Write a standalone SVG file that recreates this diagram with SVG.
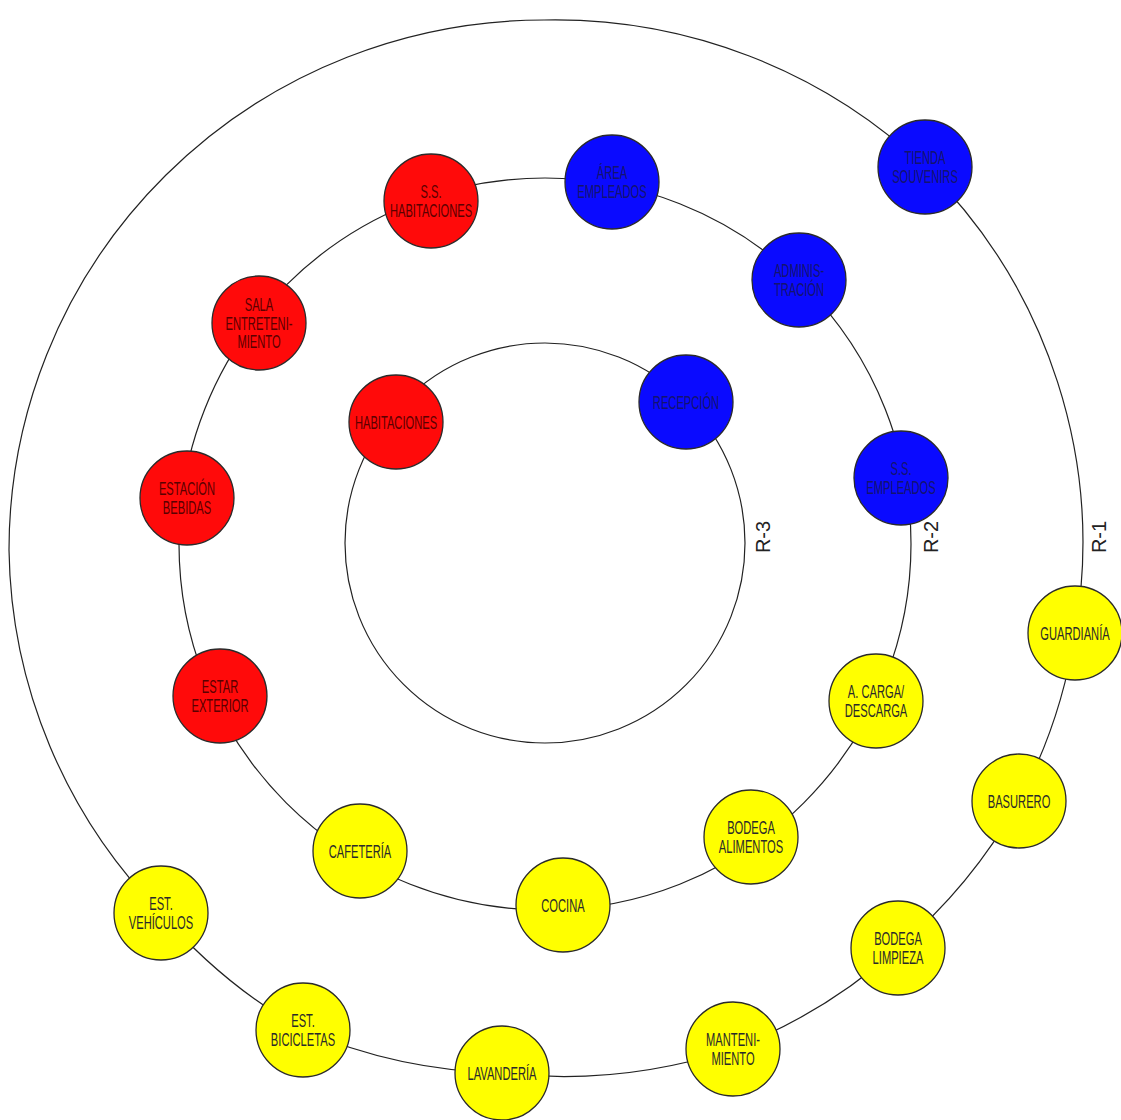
<svg xmlns="http://www.w3.org/2000/svg" width="1121" height="1120" viewBox="0 0 1121 1120">
<style>
.ring{fill:none;stroke:#222;stroke-width:1.2}
.n{stroke:#2a2a2a;stroke-width:1.3}
.r{fill:#ff0a0a}
.b{fill:#0a0aff}
.y{fill:#ffff00}
.t{font-family:"Liberation Sans",Arial,sans-serif;font-size:18px;text-anchor:middle}
.tr{fill:#5a0000}
.tb{fill:#14146e}
.ty{fill:#2a2a2a}
.lbl{font-family:"Liberation Sans",Arial,sans-serif;font-size:20px;fill:#222;text-anchor:middle}
</style>
<rect width="1121" height="1120" fill="#fff"/>
<g id="connectors">
<path id="ring-r1" class="ring" d="M161,913 A535 530 0 0 1 9,550 A535 530 0 0 1 544,20 A535 530 0 0 1 925,167 A535 530 0 0 1 1075,633 A535 530 0 0 1 1019,801 A535 530 0 0 1 898,948 A535 530 0 0 1 733,1049 A535 530 0 0 1 502,1073 A535 530 0 0 1 303,1030 A535 530 0 0 1 161,913 Z"/>
<circle id="ring-r2" class="ring" cx="545" cy="544" r="366"/>
<circle id="ring-r3" class="ring" cx="545" cy="543" r="200"/>
</g>
<g id="labels">
<text class="lbl" transform="translate(770,537) rotate(-90)">R-3</text>
<text class="lbl" transform="translate(938,537) rotate(-90)">R-2</text>
<text class="lbl" transform="translate(1106,537) rotate(-90)">R-1</text>
</g>
<g id="nodes">
<g id="tienda-souvenirs" transform="translate(925,167)"><circle class="n b" r="47"/><text class="t tb" transform="scale(0.62,1)"><tspan x="0" y="-3">TIENDA</tspan><tspan x="0" y="16">SOUVENIRS</tspan></text></g>
<g id="area-empleados" transform="translate(612,182)"><circle class="n b" r="47"/><text class="t tb" transform="scale(0.62,1)"><tspan x="0" y="-3">ÁREA</tspan><tspan x="0" y="16">EMPLEADOS</tspan></text></g>
<g id="ss-habitaciones" transform="translate(431,201)"><circle class="n r" r="47"/><text class="t tr" transform="scale(0.62,1)"><tspan x="0" y="-3">S.S.</tspan><tspan x="0" y="16">HABITACIONES</tspan></text></g>
<g id="administracion" transform="translate(799,280)"><circle class="n b" r="47"/><text class="t tb" transform="scale(0.62,1)"><tspan x="0" y="-3">ADMINIS-</tspan><tspan x="0" y="16">TRACIÓN</tspan></text></g>
<g id="sala-entretenimiento" transform="translate(259,323)"><circle class="n r" r="47"/><text class="t tr" transform="scale(0.62,1)"><tspan x="0" y="-12.5">SALA</tspan><tspan x="0" y="6.5">ENTRETENI-</tspan><tspan x="0" y="25.5">MIENTO</tspan></text></g>
<g id="habitaciones" transform="translate(396,422)"><circle class="n r" r="47"/><text class="t tr" transform="scale(0.62,1)"><tspan x="0" y="6.5">HABITACIONES</tspan></text></g>
<g id="recepcion" transform="translate(686,402)"><circle class="n b" r="47"/><text class="t tb" transform="scale(0.62,1)"><tspan x="0" y="6.5">RECEPCIÓN</tspan></text></g>
<g id="ss-empleados" transform="translate(901,478)"><circle class="n b" r="47"/><text class="t tb" transform="scale(0.62,1)"><tspan x="0" y="-3">S.S.</tspan><tspan x="0" y="16">EMPLEADOS</tspan></text></g>
<g id="estacion-bebidas" transform="translate(187,498)"><circle class="n r" r="47"/><text class="t tr" transform="scale(0.62,1)"><tspan x="0" y="-3">ESTACIÓN</tspan><tspan x="0" y="16">BEBIDAS</tspan></text></g>
<g id="guardiania" transform="translate(1075,633)"><circle class="n y" r="47"/><text class="t ty" transform="scale(0.62,1)"><tspan x="0" y="6.5">GUARDIANÍA</tspan></text></g>
<g id="carga-descarga" transform="translate(876,701)"><circle class="n y" r="47"/><text class="t ty" transform="scale(0.62,1)"><tspan x="0" y="-3">A. CARGA/</tspan><tspan x="0" y="16">DESCARGA</tspan></text></g>
<g id="estar-exterior" transform="translate(220,696)"><circle class="n r" r="47"/><text class="t tr" transform="scale(0.62,1)"><tspan x="0" y="-3">ESTAR</tspan><tspan x="0" y="16">EXTERIOR</tspan></text></g>
<g id="basurero" transform="translate(1019,801)"><circle class="n y" r="47"/><text class="t ty" transform="scale(0.62,1)"><tspan x="0" y="6.5">BASURERO</tspan></text></g>
<g id="bodega-alimentos" transform="translate(751,837)"><circle class="n y" r="47"/><text class="t ty" transform="scale(0.62,1)"><tspan x="0" y="-3">BODEGA</tspan><tspan x="0" y="16">ALIMENTOS</tspan></text></g>
<g id="cafeteria" transform="translate(360,851)"><circle class="n y" r="47"/><text class="t ty" transform="scale(0.62,1)"><tspan x="0" y="6.5">CAFETERÍA</tspan></text></g>
<g id="cocina" transform="translate(563,905)"><circle class="n y" r="47"/><text class="t ty" transform="scale(0.62,1)"><tspan x="0" y="6.5">COCINA</tspan></text></g>
<g id="est-vehiculos" transform="translate(161,913)"><circle class="n y" r="47"/><text class="t ty" transform="scale(0.62,1)"><tspan x="0" y="-3">EST.</tspan><tspan x="0" y="16">VEHÍCULOS</tspan></text></g>
<g id="bodega-limpieza" transform="translate(898,948)"><circle class="n y" r="47"/><text class="t ty" transform="scale(0.62,1)"><tspan x="0" y="-3">BODEGA</tspan><tspan x="0" y="16">LIMPIEZA</tspan></text></g>
<g id="est-bicicletas" transform="translate(303,1030)"><circle class="n y" r="47"/><text class="t ty" transform="scale(0.62,1)"><tspan x="0" y="-3">EST.</tspan><tspan x="0" y="16">BICICLETAS</tspan></text></g>
<g id="mantenimiento" transform="translate(733,1049)"><circle class="n y" r="47"/><text class="t ty" transform="scale(0.62,1)"><tspan x="0" y="-3">MANTENI-</tspan><tspan x="0" y="16">MIENTO</tspan></text></g>
<g id="lavanderia" transform="translate(502,1073)"><circle class="n y" r="47"/><text class="t ty" transform="scale(0.62,1)"><tspan x="0" y="6.5">LAVANDERÍA</tspan></text></g>
</g>
</svg>
